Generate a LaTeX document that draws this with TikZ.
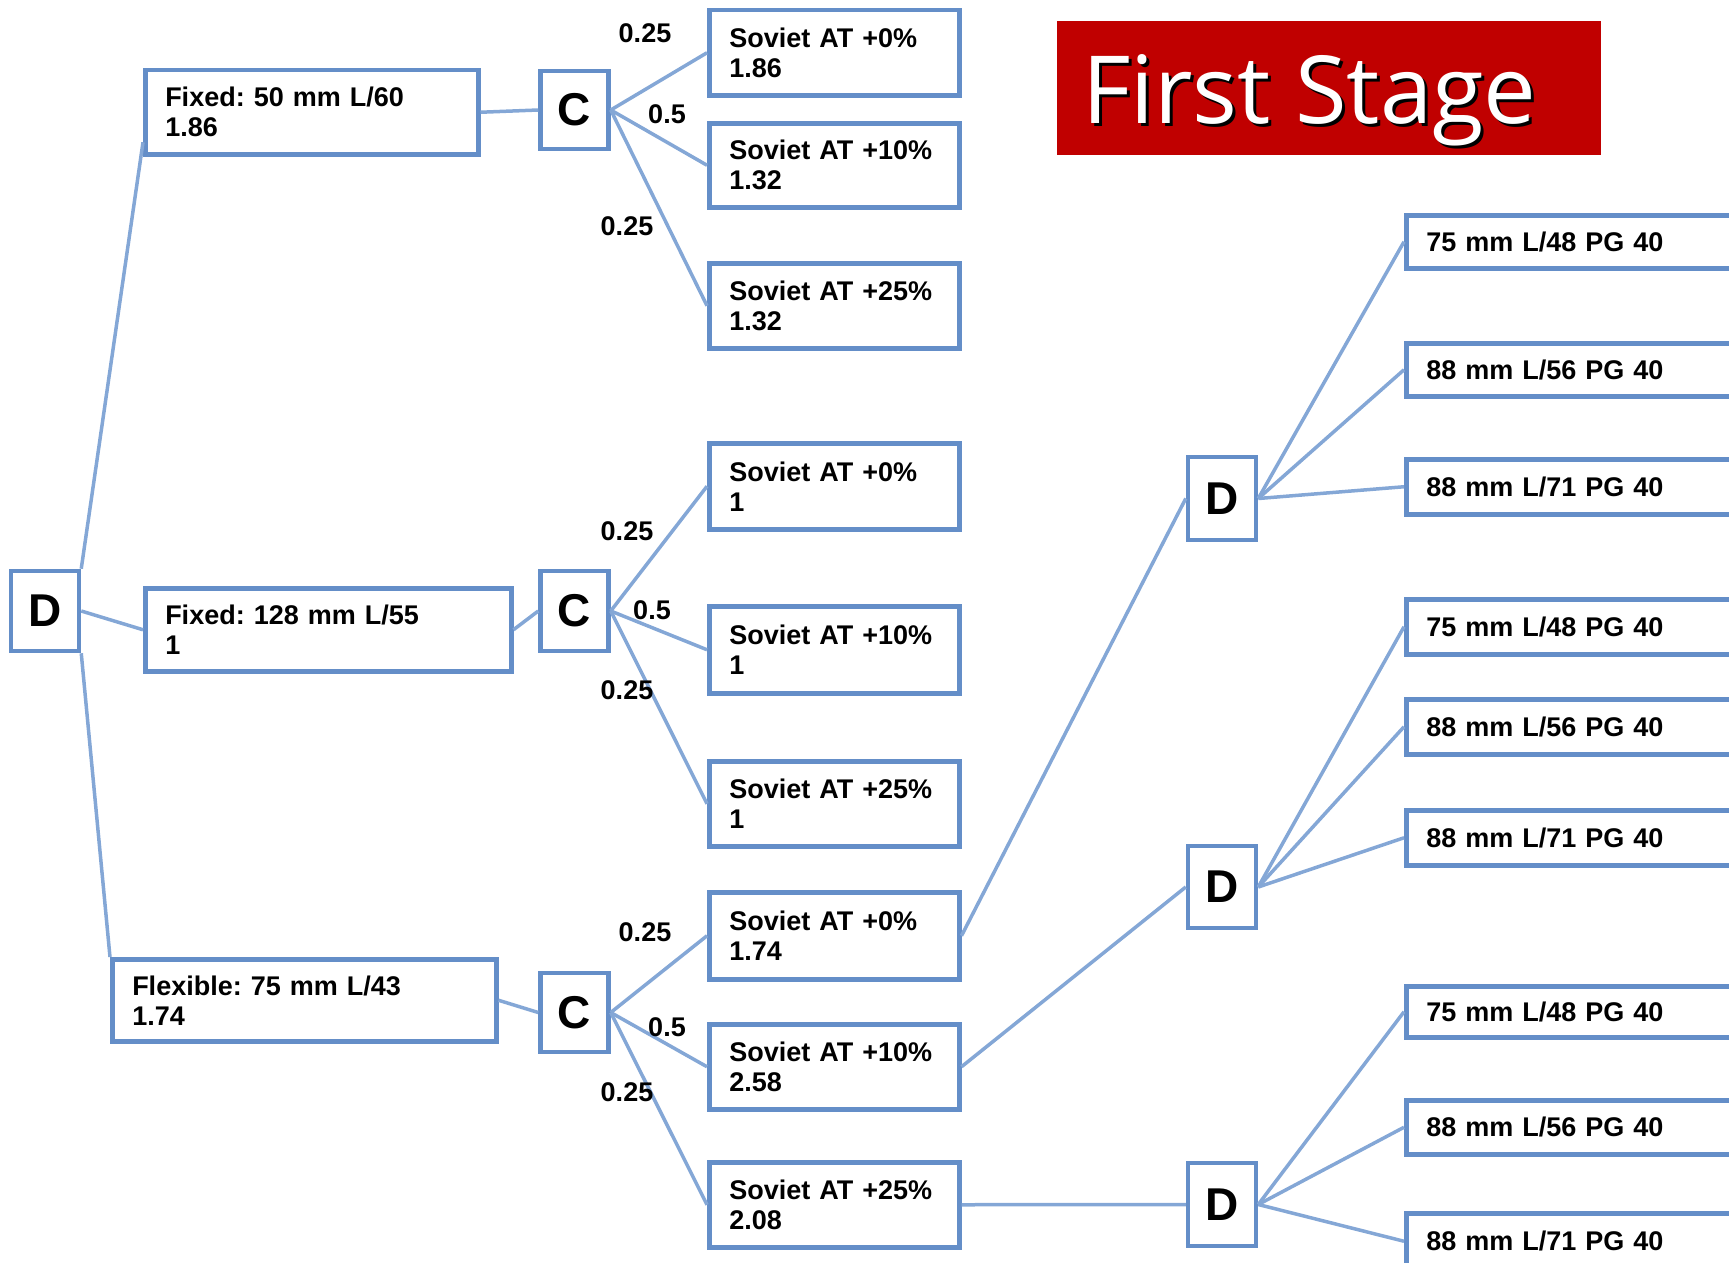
\documentclass[tikz,border=0pt]{standalone}
\usepackage{fontspec}
\setmainfont{Liberation Sans}
\newfontfamily\titlefont{Open Sans}
\usetikzlibrary{calc}
\definecolor{bordc}{RGB}{100,142,200}
\definecolor{linec}{RGB}{132,167,214}
\definecolor{titlered}{RGB}{192,0,0}
\frenchspacing
\begin{document}
\begin{tikzpicture}[x=1pt,y=-1pt,
  box/.style={draw=bordc, line width=4.5pt, inner xsep=20pt, inner ysep=0pt,
    anchor=north west, align=left, text=black,
    font=\bfseries\fontsize{27}{30}\selectfont},
  letter/.style={draw=bordc, line width=4.5pt, inner sep=0pt, minimum width=68pt,
    text=black, font=\bfseries\fontsize{46}{46}\selectfont},
  prob/.style={text=black, inner sep=0pt, font=\bfseries\fontsize{27}{27}\selectfont},
  conn/.style={draw=linec, line width=3.5pt},
  titletext/.style={anchor=base west, inner sep=0pt, font=\titlefont\fontsize{94}{94}\selectfont}]
\useasboundingbox (0,0) rectangle (1729,1263);
\clip (0,0) rectangle (1729,1263);

% title
\node[fill=titlered, anchor=north west, inner sep=0pt, minimum width=544pt, minimum height=134pt] (title) at (1057,21) {};
\node[titletext, text=black] (titleshadow) at (1085,126) {First Stage};
\node[titletext, text=white] (titlemain) at (1082,123) {First Stage};

% root decision
\node[letter, minimum height=80pt] (rootD) at (45,611) {D};

% first-level options
\node[box, text width=293pt, minimum height=84pt] (f50) at (143,68) {Fixed: 50 mm L/60\\1.86};
\node[box, text width=326pt, minimum height=83pt] (f128) at (143,586) {Fixed: 128 mm L/55\\1};
\node[box, text width=344pt, minimum height=82pt] (flex) at (110,957) {Flexible: 75 mm L/43\\1.74};

% chance nodes
\node[letter, minimum height=78pt] (c1) at (574.5,110) {C};
\node[letter, minimum height=80pt] (c2) at (574.5,611) {C};
\node[letter, minimum height=79pt] (c3) at (574.5,1012.5) {C};

% soviet outcomes
\node[box, text width=210pt, minimum height=85pt] (s1a) at (707,8) {Soviet AT +0\%\\1.86};
\node[box, text width=210pt, minimum height=84pt] (s1b) at (707,121) {Soviet AT +10\%\\1.32};
\node[box, text width=210pt, minimum height=85pt] (s1c) at (707,261) {Soviet AT +25\%\\1.32};
\node[box, text width=210pt, minimum height=86pt] (s2a) at (707,441) {Soviet AT +0\%\\1};
\node[box, text width=210pt, minimum height=87pt] (s2b) at (707,604) {Soviet AT +10\%\\1};
\node[box, text width=210pt, minimum height=85pt] (s2c) at (707,759) {Soviet AT +25\%\\1};
\node[box, text width=210pt, minimum height=87pt] (s3a) at (707,890) {Soviet AT +0\%\\1.74};
\node[box, text width=210pt, minimum height=85pt] (s3b) at (707,1022) {Soviet AT +10\%\\2.58};
\node[box, text width=210pt, minimum height=85pt] (s3c) at (707,1160) {Soviet AT +25\%\\2.08};

% second-stage decisions
\node[letter, minimum height=83pt] (d1) at (1222,498.5) {D};
\node[letter, minimum height=82pt] (d2) at (1222,887) {D};
\node[letter, minimum height=83pt] (d3) at (1222,1204.5) {D};

% gun options
\node[box, text width=360pt, minimum height=53pt] (r1a) at (1404,213) {75 mm L/48 PG 40};
\node[box, text width=360pt, minimum height=53pt] (r1b) at (1404,341) {88 mm L/56 PG 40};
\node[box, text width=360pt, minimum height=55pt] (r1c) at (1404,457) {88 mm L/71 PG 40};
\node[box, text width=360pt, minimum height=55pt] (r2a) at (1404,597) {75 mm L/48 PG 40};
\node[box, text width=360pt, minimum height=55pt] (r2b) at (1404,697) {88 mm L/56 PG 40};
\node[box, text width=360pt, minimum height=55pt] (r2c) at (1404,808) {88 mm L/71 PG 40};
\node[box, text width=360pt, minimum height=51pt] (r3a) at (1404,984) {75 mm L/48 PG 40};
\node[box, text width=360pt, minimum height=54pt] (r3b) at (1404,1098) {88 mm L/56 PG 40};
\node[box, text width=360pt, minimum height=56pt] (r3c) at (1404,1211) {88 mm L/71 PG 40};

% connectors
\draw[conn] (rootD.north east) -- ($(f50.west)+(0,30)$);
\draw[conn] (rootD.east) -- (f128.west);
\draw[conn] (rootD.south east) -- (flex.north west);
\draw[conn] (f50.east) -- (c1.west);
\draw[conn] (f128.east) -- (c2.west);
\draw[conn] (flex.east) -- (c3.west);
\foreach \c/\s in {c1/s1, c2/s2, c3/s3}{
  \draw[conn] (\c.east) -- (\s a.west);
  \draw[conn] (\c.east) -- (\s b.west);
  \draw[conn] (\c.east) -- (\s c.west);
}
\draw[conn] (s3a.east) -- (d1.west);
\draw[conn] (s3b.east) -- (d2.west);
\draw[conn] (s3c.east) -- (d3.west);
\foreach \d/\r in {d1/r1, d2/r2, d3/r3}{
  \draw[conn] (\d.east) -- (\r a.west);
  \draw[conn] (\d.east) -- (\r b.west);
  \draw[conn] (\d.east) -- (\r c.west);
}

% probabilities
\node[prob] (p1a) at (645,33) {0.25};
\node[prob] (p1b) at (667,114) {0.5};
\node[prob] (p1c) at (627,226) {0.25};
\node[prob] (p2a) at (627,531) {0.25};
\node[prob] (p2b) at (652,610) {0.5};
\node[prob] (p2c) at (627,690) {0.25};
\node[prob] (p3a) at (645,932) {0.25};
\node[prob] (p3b) at (667,1027) {0.5};
\node[prob] (p3c) at (627,1092) {0.25};
\end{tikzpicture}
\end{document}
